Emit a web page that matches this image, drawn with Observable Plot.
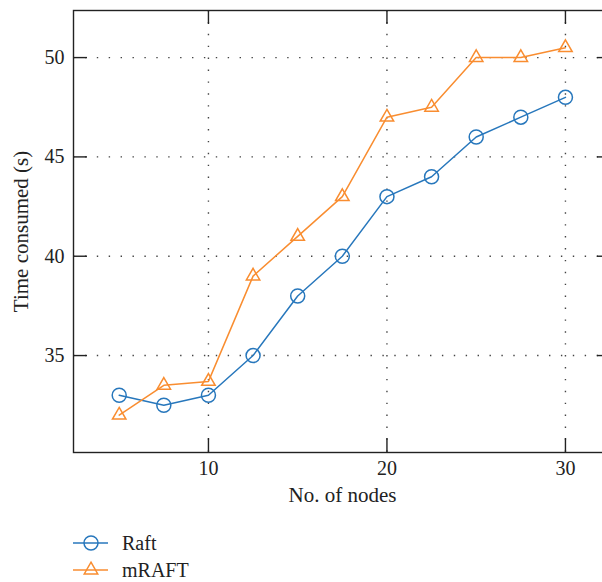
<!DOCTYPE html>
<html><head><meta charset="utf-8">
<script src="https://cdn.jsdelivr.net/npm/d3@7"></script>
<script src="https://cdn.jsdelivr.net/npm/@observablehq/plot@0.6"></script>
<style>
html,body{margin:0;background:#fff;font-family:"Liberation Serif",serif;overflow:hidden;}
#chart{width:602px;overflow:hidden;}
#chart svg{display:block;max-width:none !important;height:auto;}
</style>
</head><body><div id="chart"></div><script>
const nodes = [5, 7.5, 10, 12.5, 15, 17.5, 20, 22.5, 25, 27.5, 30];
const raft = [33, 32.5, 33, 35, 38, 40, 43, 44, 46, 47, 48];
const mraft = [32, 33.5, 33.7, 39, 41, 43, 47, 47.5, 50, 50, 50.5];
const seriesNames = ["Raft", "mRAFT"];
const seriesSymbols = ["circle", "triangle"];
const colors = ["#2777bc", "#f98d30"];
const xTicks = [10, 20, 30];
const yTicks = [35, 40, 45, 50];

const data = [];
nodes.forEach((n, i) => {
  data.push({n, v: raft[i], s: seriesNames[0]});
  data.push({n, v: mraft[i], s: seriesNames[1]});
});

const font = "Liberation Serif";
const W = 611, H = 525, mL = 73, mT = 10, mR = 0, mB = 73;
const innerW = W - mL - mR, innerH = H - mT - mB, tick = 14;
const dotted = {stroke: "#444", strokeOpacity: 1, strokeWidth: 1.4, strokeDasharray: "1.4,10.5"};
const tk = {stroke: "#222", strokeWidth: 1.4};
const plot = Plot.plot({
  width: W, height: H,
  marginLeft: mL, marginTop: mT, marginRight: mR, marginBottom: mB,
  style: {fontFamily: font, fontSize: "20px", color: "#222", background: "#fff", maxWidth: "none"},
  x: {domain: [2.44, 32.58]},
  y: {domain: [30.12, 52.37]},
  color: {domain: seriesNames, range: colors},
  symbol: {domain: seriesNames, range: seriesSymbols},
  marks: [
    Plot.gridX(xTicks, dotted),
    Plot.gridY(yTicks, dotted),
    Plot.ruleX(xTicks, {...tk, insetTop: innerH - tick}),
    Plot.ruleX(xTicks, {...tk, insetBottom: innerH - tick}),
    Plot.ruleY(yTicks, {...tk, insetRight: innerW - tick}),
    Plot.ruleY(yTicks, {...tk, insetLeft: innerW - tick}),
    Plot.axisX(xTicks, {anchor: "bottom", tickSize: 0, tickPadding: 8, fontSize: 20, label: null}),
    Plot.axisY(yTicks, {anchor: "left", tickSize: 0, tickPadding: 9, fontSize: 20, label: null}),
    Plot.text(["No. of nodes"], {frameAnchor: "bottom", dy: 49, fontSize: 21, fill: "#222"}),
    Plot.text(["Time consumed (s)"], {frameAnchor: "left", dx: -52, rotate: -90, fontSize: 21, fill: "#222", textAnchor: "middle"}),
    Plot.frame({stroke: "#222", strokeWidth: 1.4}),
    Plot.line(data, {x: "n", y: "v", z: "s", stroke: "s", strokeWidth: 1.5}),
    Plot.dot(data.filter(d => d.s === seriesNames[0]), {x: "n", y: "v", stroke: "s", symbol: "s", r: 7, strokeWidth: 1.5, fill: "none"}),
    Plot.dot(data.filter(d => d.s === seriesNames[1]), {x: "n", y: "v", stroke: "s", symbol: "s", r: 5, strokeWidth: 1.5, fill: "none"})
  ]
});
document.getElementById("chart").appendChild(plot);

// legend
const lg = d3.select("#chart").append("svg").attr("width", 602).attr("height", 57)
  .style("font-family", font).style("font-size", "20px");
seriesNames.forEach((name, i) => {
  const y = 18 + i * 27;
  const g = lg.append("g");
  g.append("line").attr("x1", 73).attr("x2", 108).attr("y1", y).attr("y2", y)
    .attr("stroke", colors[i]).attr("stroke-width", 1.5);
  const sym = i === 0 ? d3.symbolCircle : d3.symbolTriangle;
  const size = i === 0 ? Math.PI * 49 : Math.PI * 25;
  g.append("path").attr("d", d3.symbol(sym, size)()).attr("transform", `translate(91,${y})`)
    .attr("fill", "none").attr("stroke", colors[i]).attr("stroke-width", 1.5);
  g.append("text").attr("x", 122).attr("y", y).attr("dy", "0.35em").attr("fill", "#222").text(name);
});
</script></body></html>
